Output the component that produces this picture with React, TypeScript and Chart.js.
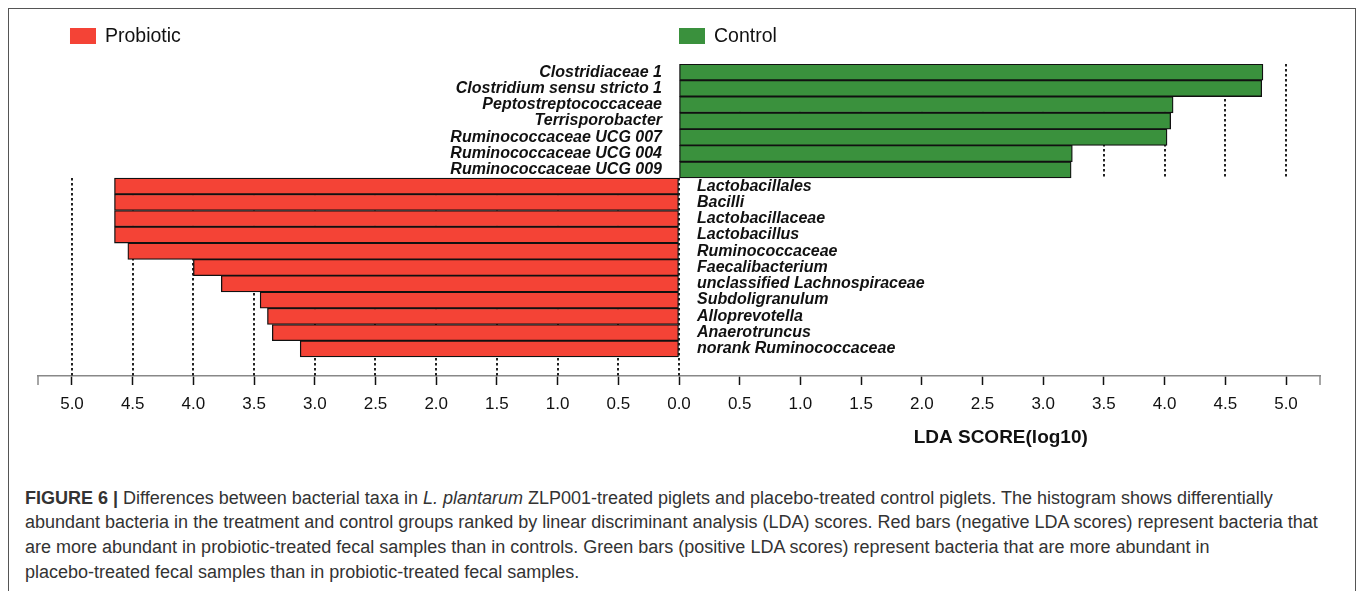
import React, { useEffect, useRef } from "react";
import { Chart, registerables } from "chart.js";

Chart.register(...registerables);

// ---- data ----
const CONTROL_TAXA = [
  "Clostridiaceae 1",
  "Clostridium sensu stricto 1",
  "Peptostreptococcaceae",
  "Terrisporobacter",
  "Ruminococcaceae UCG 007",
  "Ruminococcaceae UCG 004",
  "Ruminococcaceae UCG 009",
];
const CONTROL_LDA = [4.81, 4.8, 4.07, 4.05, 4.02, 3.24, 3.23];

const PROBIOTIC_TAXA = [
  "Lactobacillales",
  "Bacilli",
  "Lactobacillaceae",
  "Lactobacillus",
  "Ruminococcaceae",
  "Faecalibacterium",
  "unclassified Lachnospiraceae",
  "Subdoligranulum",
  "Alloprevotella",
  "Anaerotruncus",
  "norank Ruminococcaceae",
];
const PROBIOTIC_LDA = [4.65, 4.65, 4.65, 4.65, 4.54, 4.0, 3.77, 3.45, 3.39, 3.35, 3.12];

const TICK_VALUES = [-5, -4.5, -4, -3.5, -3, -2.5, -2, -1.5, -1, -0.5, 0, 0.5, 1, 1.5, 2, 2.5, 3, 3.5, 4, 4.5, 5];
const AXIS_LIMIT = 5.28;
const AXIS_TITLE = "LDA SCORE(log10)";
const SERIES_NAMES = ["Probiotic", "Control"];

const RED = "#f44336";
const GREEN = "#3a913d";
const FONT = "'Liberation Sans', Arial, Helvetica, sans-serif";

const lefsePlugin = {
  id: "lefse",
  beforeDatasetsDraw(chart: any) {
    const { ctx, chartArea, scales } = chart;
    const x = scales.x;
    const y = scales.y;
    const topY = y.getPixelForValue(-0.5);
    const splitY = y.getPixelForValue(CONTROL_TAXA.length - 0.5);
    ctx.save();
    ctx.strokeStyle = "#222";
    ctx.lineWidth = 2;
    ctx.setLineDash([2.5, 2.5]);
    TICK_VALUES.forEach((v) => {
      const px = Math.round(x.getPixelForValue(v));
      ctx.beginPath();
      if (v > 0) {
        ctx.moveTo(px, topY);
        ctx.lineTo(px, splitY);
      } else {
        ctx.moveTo(px, splitY);
        ctx.lineTo(px, chartArea.bottom);
      }
      ctx.stroke();
    });
    ctx.restore();
  },
  afterDatasetsDraw(chart: any) {
    const { ctx, chartArea, scales } = chart;
    const x = scales.x;
    const y = scales.y;
    const zero = x.getPixelForValue(0);
    ctx.save();
    // taxa labels
    ctx.font = `italic bold 16px ${FONT}`;
    ctx.fillStyle = "#111";
    ctx.textBaseline = "middle";
    ctx.textAlign = "right";
    CONTROL_TAXA.forEach((name, i) => {
      ctx.fillText(name, zero - 17, y.getPixelForValue(i));
    });
    ctx.textAlign = "left";
    PROBIOTIC_TAXA.forEach((name, i) => {
      ctx.fillText(name, zero + 18, y.getPixelForValue(CONTROL_TAXA.length + i));
    });
    // legend
    const legendY = 36;
    const items = [
      { name: SERIES_NAMES[0], color: RED, x0: x.getPixelForValue(-5) - 2 },
      { name: SERIES_NAMES[1], color: GREEN, x0: zero },
    ];
    ctx.font = `19.5px ${FONT}`;
    items.forEach((it) => {
      ctx.fillStyle = it.color;
      ctx.fillRect(it.x0, legendY - 8, 26, 16);
      ctx.fillStyle = "#111";
      ctx.textAlign = "left";
      ctx.fillText(it.name, it.x0 + 35, legendY + 1);
    });
    // axis end caps
    ctx.strokeStyle = "#888";
    ctx.lineWidth = 1.5;
    [chartArea.left, chartArea.right].forEach((px) => {
      ctx.beginPath();
      ctx.moveTo(px, chartArea.bottom);
      ctx.lineTo(px, chartArea.bottom + 9);
      ctx.stroke();
    });
    // axis title
    ctx.font = `bold 19px ${FONT}`;
    ctx.fillStyle = "#111";
    ctx.textAlign = "center";
    ctx.fillText(AXIS_TITLE, x.getPixelForValue(2.65), chartArea.bottom + 62);
    ctx.restore();
  },
};

function LefseChart() {
  const ref = useRef<HTMLCanvasElement | null>(null);
  useEffect(() => {
    if (!ref.current) return;
    const common = {
      borderColor: "#111",
      borderWidth: 1.3,
      borderSkipped: false,
      grouped: false,
      barPercentage: 1,
      categoryPercentage: 1,
    };
    const chart = new Chart(ref.current, {
      type: "bar",
      data: {
        datasets: [
          {
            label: SERIES_NAMES[1],
            data: CONTROL_LDA.map((v, i) => ({ x: v, y: i })),
            backgroundColor: GREEN,
            ...common,
          } as any,
          {
            label: SERIES_NAMES[0],
            data: PROBIOTIC_LDA.map((v, i) => ({ x: -v, y: CONTROL_TAXA.length + i })),
            backgroundColor: RED,
            ...common,
          } as any,
        ],
      },
      options: {
        indexAxis: "y",
        animation: false,
        responsive: false,
        devicePixelRatio: 1,
        layout: { padding: { left: 38, right: 37, top: 64, bottom: 0 } },
        plugins: {
          legend: { display: false },
          tooltip: { enabled: false },
          title: { display: false },
        },
        scales: {
          x: {
            type: "linear",
            min: -AXIS_LIMIT,
            max: AXIS_LIMIT,
            offset: false,
            afterBuildTicks: (axis: any) => {
              axis.ticks = TICK_VALUES.map((value) => ({ value }));
            },
            afterFit: (s: any) => {
              s.height = 94;
            },
            grid: {
              drawOnChartArea: false,
              drawTicks: true,
              tickLength: 9,
              tickColor: "#111",
              tickWidth: 1.5,
            },
            border: { display: true, color: "#888", width: 1.5 },
            ticks: {
              autoSkip: false,
              maxRotation: 0,
              minRotation: 0,
              padding: 9,
              color: "#111",
              font: { family: FONT, size: 17 },
              callback: (v: any) => Math.abs(Number(v)).toFixed(1),
            },
          },
          y: {
            type: "linear",
            display: false,
            offset: false,
            grid: { offset: false },
            reverse: true,
            min: -0.5,
            max: 18.665,
          },
        },
      } as any,
      plugins: [lefsePlugin],
    });
    return () => chart.destroy();
  }, []);
  return (
    <canvas
      ref={ref}
      width={1357}
      height={470}
      style={{ position: "fixed", left: 0, top: 0, width: 1357, height: 470, display: "block" }}
    />
  );
}

const captionStyle: React.CSSProperties = {
  position: "fixed",
  left: 25,
  fontFamily: FONT,
  fontSize: 18,
  lineHeight: "24.7px",
  color: "#333",
  whiteSpace: "nowrap",
};

export default function App() {
  return (
    <>
      <div
        style={{
          position: "fixed",
          left: 8,
          top: 8,
          width: 1348,
          height: 700,
          border: "1.5px solid #555",
          boxSizing: "border-box",
          background: "#fff",
        }}
      />
      <LefseChart />
      <div style={{ ...captionStyle, top: 485.6 }}>
        <div>
          <b>FIGURE 6 |</b> Differences between bacterial taxa in <i>L. plantarum</i> ZLP001-treated piglets and
          placebo-treated control piglets. The histogram shows differentially
        </div>
        <div>
          abundant bacteria in the treatment and control groups ranked by linear discriminant analysis (LDA) scores.
          Red bars (negative LDA scores) represent bacteria that
        </div>
        <div>
          are more abundant in probiotic-treated fecal samples than in controls. Green bars (positive LDA scores)
          represent bacteria that are more abundant in
        </div>
        <div>placebo-treated fecal samples than in probiotic-treated fecal samples.</div>
      </div>
    </>
  );
}
